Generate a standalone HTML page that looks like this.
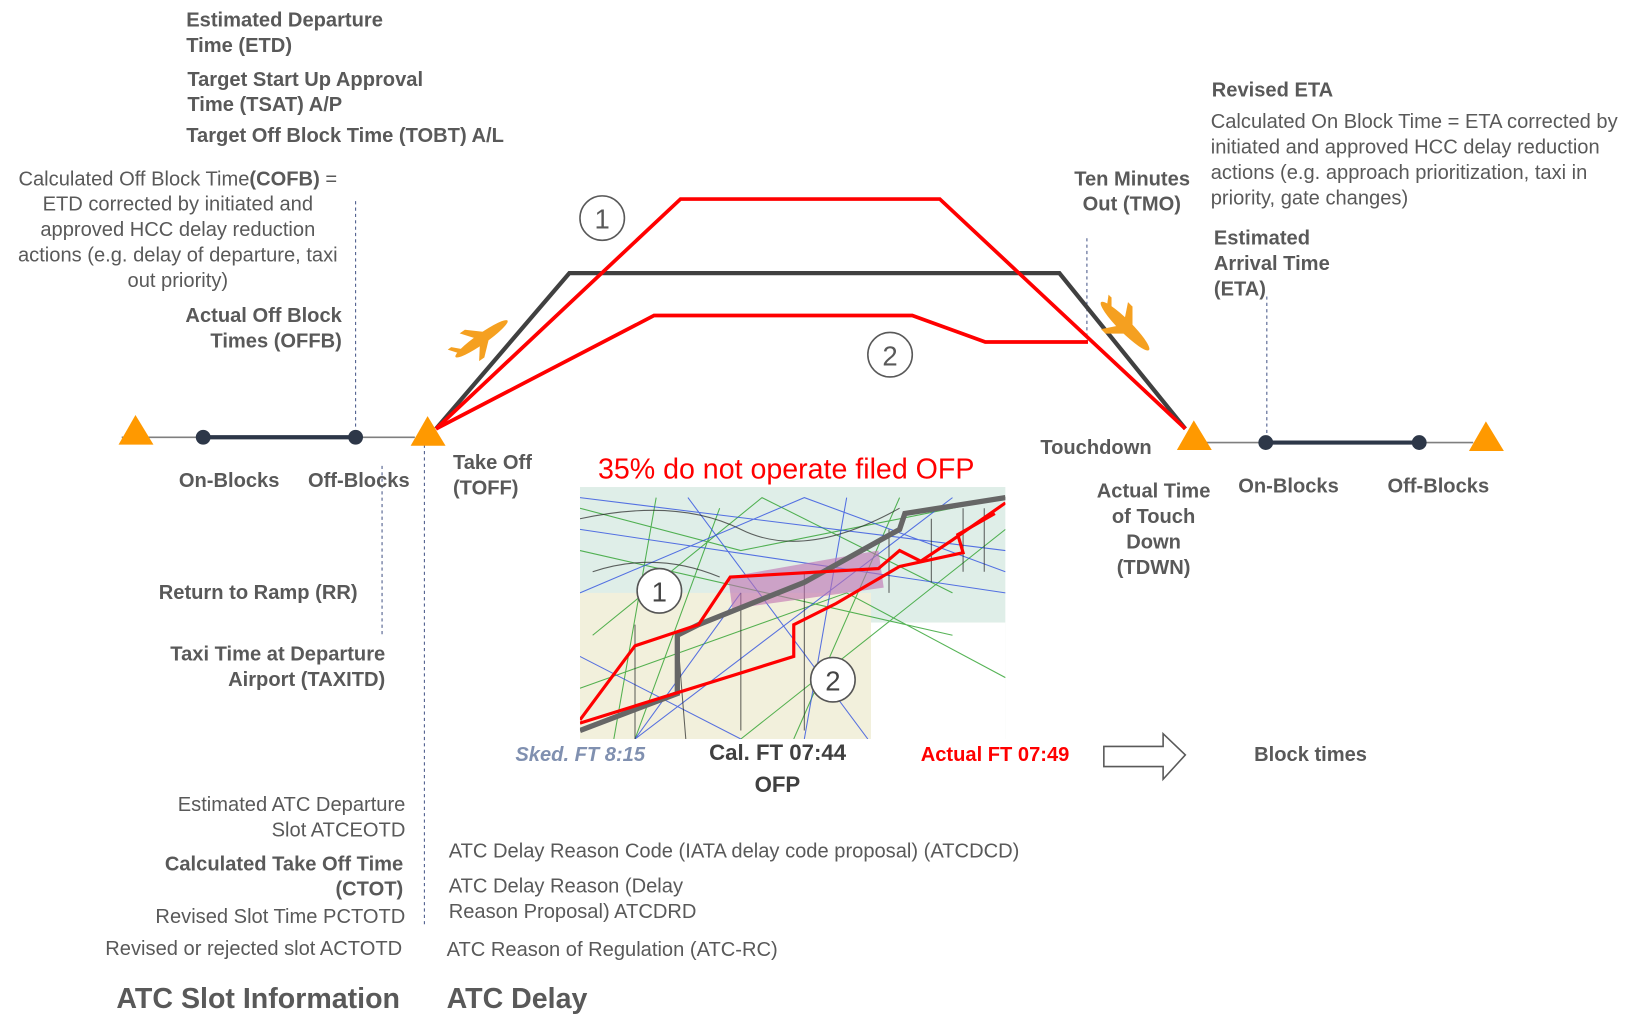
<!DOCTYPE html>
<html><head><meta charset="utf-8"><style>
html,body{margin:0;padding:0;background:#fff;width:1651px;height:1027px;overflow:hidden}
svg{display:block}
text{font-family:"Liberation Sans",Arial,sans-serif;font-size:19px;fill:#595959}
.b{font-weight:bold}
</style></head><body>
<svg width="1651" height="1027" viewBox="0 0 1560 970" preserveAspectRatio="none">
<defs><clipPath id="mc"><rect x="548" y="460" width="402" height="238"/></clipPath></defs>
<g stroke="#4a5a8a" stroke-width="1" stroke-dasharray="3,3" fill="none">
<line x1="336" y1="190" x2="336" y2="405"/>
<line x1="361" y1="440" x2="361" y2="600"/>
<line x1="401" y1="420" x2="401" y2="875"/>
<line x1="1027" y1="225" x2="1027" y2="325"/>
<line x1="1197" y1="280" x2="1197" y2="410"/>
</g>
<line x1="115" y1="413" x2="392" y2="413" stroke="#7f7f7f" stroke-width="1.5"/>
<line x1="192" y1="413" x2="336" y2="413" stroke="#2d3748" stroke-width="4"/>
<circle cx="192" cy="413" r="7" fill="#2d3748"/><circle cx="336" cy="413" r="7" fill="#2d3748"/>
<line x1="1138" y1="418" x2="1392" y2="418" stroke="#7f7f7f" stroke-width="1.5"/>
<line x1="1196" y1="418" x2="1341" y2="418" stroke="#2d3748" stroke-width="4"/>
<circle cx="1196" cy="418" r="7" fill="#2d3748"/><circle cx="1341" cy="418" r="7" fill="#2d3748"/>
<polyline points="412,405 538,258 1001,258 1120,405" fill="none" stroke="#404040" stroke-width="4"/>
<polyline points="412,405 643,188 888,188 1120,405" fill="none" stroke="#ff0000" stroke-width="3.5"/>
<polyline points="412,405 618,298 862,298 931,323 1028,323" fill="none" stroke="#ff0000" stroke-width="3.5"/>
<g fill="#ff9900">
<polygon points="128,392 112,420 145,420"/>
<polygon points="404,393 388,421 421,421"/>
<polygon points="1128,397 1112,425 1145,425"/>
<polygon points="1404,398 1388,426 1421,426"/>
</g>
<g fill="#fff" stroke="#595959" stroke-width="1.5">
<circle cx="569" cy="206" r="21"/><circle cx="841" cy="335" r="21"/>
</g>
<text x="569" y="216" text-anchor="middle" style="font-size:26px">1</text>
<text x="841" y="345" text-anchor="middle" style="font-size:26px">2</text>
<!-- planes -->
<g fill="#f5a020">
<g transform="translate(455,320) rotate(-35)">
<ellipse cx="0" cy="0" rx="30" ry="5"/>
<polygon points="-4,-3 -14,-16 -8,-16 8,-2"/>
<polygon points="-4,3 -14,16 -8,16 8,2"/>
<polygon points="-26,-2 -32,-10 -28,-10 -20,-2"/>
</g>
<g transform="translate(1063,308) rotate(45)">
<ellipse cx="0" cy="0" rx="32" ry="6"/>
<polygon points="-4,-3 -14,-18 -8,-18 8,-2"/>
<polygon points="-4,3 -14,18 -8,18 8,2"/>
<polygon points="-26,-2 -32,-10 -28,-10 -20,-2"/>
</g>
</g>
<g clip-path="url(#mc)">
<rect x="548" y="460" width="402" height="238" fill="#dfeee8"/>
<rect x="548" y="560" width="275" height="138" fill="#f2f0dc"/>
<rect x="823" y="588" width="127" height="110" fill="#ffffff"/>
<g stroke="#2ca02c" stroke-width="1" fill="none" opacity=".8">
<path d="M548 480 L700 520 L950 470 M560 600 L720 470 L900 560 M600 698 L680 480 M750 698 L850 470 M548 650 L800 560 L950 640 M620 470 L580 698 M700 698 L950 500 M548 520 L900 600"/>
</g>
<g stroke="#3050e0" stroke-width="1" fill="none" opacity=".8">
<path d="M548 500 L950 560 M548 560 L760 470 L950 540 M600 698 L900 470 M548 620 L700 698 M650 470 L820 698 M548 470 L950 520 M700 560 L600 698 M800 470 L760 698"/>
</g>
<g stroke="#222" stroke-width="1" fill="none" opacity=".7">
<path d="M548 490 Q640 470 700 500 T850 480 M560 540 Q620 520 680 545 M600 590 L600 698 M640 600 L648 698 M700 560 L700 690 M760 540 L760 690 M840 500 L840 560 M880 490 L880 550 M910 480 L910 540 M930 480 L930 540"/>
</g>
<polygon points="688,545 830,520 835,555 692,575" fill="#c070b0" opacity=".6"/>
<polyline points="548,690 640,655 640,600 660,590 760,550 850,500 855,485 950,470" fill="none" stroke="#666" stroke-width="5"/>
<polyline points="548,680 600,610 660,590 690,545 830,537 850,520 870,530 900,510 950,475" fill="none" stroke="#ff0000" stroke-width="3"/>
<polyline points="548,683 750,620 750,590 790,570 850,535 910,522 905,505 940,485" fill="none" stroke="#ff0000" stroke-width="3"/>
</g>
<g fill="#fff" stroke="#555" stroke-width="1.5">
<circle cx="623" cy="558" r="21"/><circle cx="787" cy="642" r="21"/>
</g>
<text x="623" y="568" text-anchor="middle" style="font-size:26px;fill:#444">1</text>
<text x="787" y="652" text-anchor="middle" style="font-size:26px;fill:#444">2</text>
<polygon points="1043,705 1099,705 1099,693 1120,713 1099,736 1099,724 1043,724" fill="#fff" stroke="#595959" stroke-width="1.5"/>
<g>
<text class="b" x="176" y="25">Estimated Departure</text>
<text class="b" x="176" y="49">Time (ETD)</text>
<text class="b" x="177" y="81">Target Start Up Approval</text>
<text class="b" x="177" y="105">Time (TSAT) A/P</text>
<text class="b" x="176" y="134">Target Off Block Time (TOBT) A/L</text>
<text class="b" x="323" y="304" text-anchor="end">Actual Off Block</text>
<text class="b" x="323" y="328" text-anchor="end">Times (OFFB)</text>
<text class="b" x="169" y="460">On-Blocks</text>
<text class="b" x="291" y="460">Off-Blocks</text>
<text class="b" x="428" y="443">Take Off</text>
<text class="b" x="428" y="467">(TOFF)</text>
<text class="b" x="150" y="566">Return to Ramp (RR)</text>
<text class="b" x="364" y="624" text-anchor="end">Taxi Time at Departure</text>
<text class="b" x="364" y="648" text-anchor="end">Airport (TAXITD)</text>
<text class="b" x="381" y="822" text-anchor="end">Calculated Take Off Time</text>
<text class="b" x="381" y="846" text-anchor="end">(CTOT)</text>
<text class="b" x="110" y="952" style="font-size:27px">ATC Slot Information</text>
<text class="b" x="422" y="952" style="font-size:27px">ATC Delay</text>
<text class="b" x="1015" y="175">Ten Minutes</text>
<text class="b" x="1023" y="199">Out (TMO)</text>
<text class="b" x="1145" y="91">Revised ETA</text>
<text class="b" x="1147" y="231">Estimated</text>
<text class="b" x="1147" y="255">Arrival Time</text>
<text class="b" x="1147" y="279">(ETA)</text>
<text class="b" x="983" y="429">Touchdown</text>
<text class="b" x="1090" y="470" text-anchor="middle">Actual Time</text>
<text class="b" x="1090" y="494" text-anchor="middle">of Touch</text>
<text class="b" x="1090" y="518" text-anchor="middle">Down</text>
<text class="b" x="1090" y="542" text-anchor="middle">(TDWN)</text>
<text class="b" x="1170" y="465">On-Blocks</text>
<text class="b" x="1311" y="465">Off-Blocks</text>
<text class="b" x="1185" y="719">Block times</text>
<text class="b" x="670" y="718" style="font-size:21px;fill:#404040">Cal.   FT 07:44</text>
<text class="b" x="713" y="748" style="font-size:21px;fill:#404040">OFP</text>
<text class="b" x="870" y="719" style="fill:#ff0000">Actual FT 07:49</text>
<text class="b" x="487" y="719" style="font-style:italic;fill:#8090b0">Sked. FT 8:15</text>
</g>
<g text-anchor="middle">
<text x="168" y="175">Calculated Off Block Time<tspan class="b">(COFB)</tspan> =</text>
<text x="168" y="199">ETD corrected by initiated and</text>
<text x="168" y="223">approved HCC delay reduction</text>
<text x="168" y="247">actions (e.g. delay of departure, taxi</text>
<text x="168" y="271">out priority)</text>
</g>
<text x="1144" y="121">Calculated On Block Time  = ETA corrected by</text>
<text x="1144" y="145">initiated and approved HCC delay reduction</text>
<text x="1144" y="169">actions (e.g. approach prioritization, taxi in</text>
<text x="1144" y="193">priority, gate changes)</text>
<text x="383" y="766" text-anchor="end">Estimated ATC Departure</text>
<text x="383" y="790" text-anchor="end">Slot ATCEOTD</text>
<text x="383" y="872" text-anchor="end">Revised Slot  Time PCTOTD</text>
<text x="380" y="902" text-anchor="end">Revised or rejected slot ACTOTD</text>
<text x="424" y="810">ATC Delay Reason Code (IATA delay code proposal) (ATCDCD)</text>
<text x="424" y="843">ATC Delay Reason  (Delay</text>
<text x="424" y="867">Reason Proposal) ATCDRD</text>
<text x="422" y="903">ATC Reason of Regulation (ATC-RC)</text>
<text x="565" y="452" style="font-size:27px;fill:#ff0000">35% do not operate filed OFP</text>
</svg>
</body></html>
